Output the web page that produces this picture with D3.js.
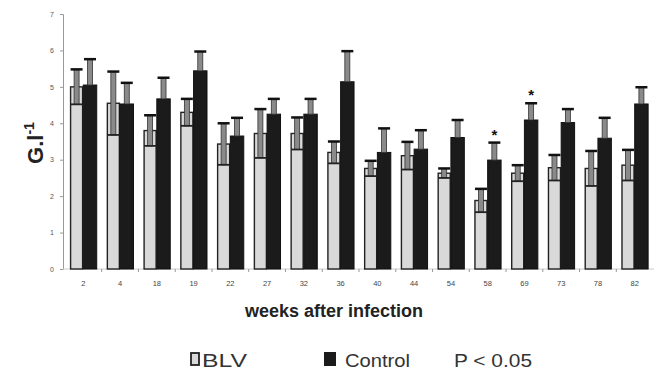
<!DOCTYPE html>
<html>
<head>
<meta charset="utf-8">
<script src="https://cdn.jsdelivr.net/npm/d3@7"></script>
<style>
  body { margin: 0; background: #fff; }
  svg { display: block; font-family: Arial, "Liberation Sans", sans-serif; }
</style>
</head>
<body>
<div id="chart"></div>
<script>
// weeks after infection
const weeks = ["2", "4", "18", "19", "22", "27", "32", "36", "40", "44", "54", "58", "69", "73", "78", "82"];
// BLV group means and SE
const blv = [5.0, 4.55, 3.8, 4.3, 3.43, 3.72, 3.72, 3.2, 2.76, 3.11, 2.63, 1.88, 2.63, 2.78, 2.76, 2.85];
const blvErr = [0.48, 0.87, 0.42, 0.37, 0.57, 0.67, 0.44, 0.3, 0.21, 0.38, 0.13, 0.32, 0.22, 0.35, 0.48, 0.42];
// Control group means and SE
const control = [5.05, 4.53, 4.67, 5.44, 3.65, 4.25, 4.25, 5.14, 3.2, 3.29, 3.61, 2.99, 4.09, 4.02, 3.59, 4.53];
const controlErr = [0.71, 0.58, 0.58, 0.53, 0.5, 0.42, 0.42, 0.84, 0.66, 0.52, 0.48, 0.48, 0.46, 0.37, 0.56, 0.46];
// weeks with P < 0.05
const signif = ["58", "69"];
const yTicks = [0, 1, 2, 3, 4, 5, 6, 7];

const W = 656, H = 376;
const svg = d3.select("#chart").append("svg")
  .attr("width", W).attr("height", H);

const x = d3.scaleBand()
  .domain(weeks)
  .range([64, 654])
  .paddingInner(0.27)
  .paddingOuter(0.16);

const y = d3.scaleLinear()
  .domain([0, 7])
  .range([269, 14]);

const sub = d3.scaleBand()
  .domain(["blv", "control"])
  .range([0, x.bandwidth()]);

// y axis
const yAxis = svg.append("g")
  .attr("transform", "translate(63,0)")
  .call(d3.axisLeft(y).tickValues(yTicks).tickSize(3).tickPadding(6).tickFormat(d3.format("d")));
yAxis.select(".domain").attr("stroke", "#999");
yAxis.selectAll(".tick line").attr("stroke", "#999");
yAxis.selectAll(".tick text")
  .style("font-size", "7px")
  .attr("fill", "#555");

// x axis (line + small separators between groups)
const step = x.step();
svg.append("line")
  .attr("x1", 63).attr("x2", 654)
  .attr("y1", y(0)).attr("y2", y(0))
  .attr("stroke", "#ccc").attr("stroke-width", 1);
svg.selectAll(".sep")
  .data(weeks.slice(1))
  .join("line")
  .attr("x1", d => x(d) - step * x.paddingInner() / 2)
  .attr("x2", d => x(d) - step * x.paddingInner() / 2)
  .attr("y1", y(0)).attr("y2", y(0) + 3)
  .attr("stroke", "#999");

svg.selectAll(".xlab")
  .data(weeks)
  .join("text")
  .attr("x", d => x(d) + x.bandwidth() / 2)
  .attr("y", 286)
  .attr("text-anchor", "middle")
  .style("font-size", "7.5px")
  .attr("fill", "#444")
  .text(d => d);

// build series rows
const rows = weeks.map((w, i) => ({
  w: w,
  blv: blv[i], blvErr: blvErr[i],
  control: control[i], controlErr: controlErr[i]
}));

// bars
const groups = svg.selectAll(".grp")
  .data(rows)
  .join("g")
  .attr("transform", d => `translate(${x(d.w)},0)`);

groups.append("rect")
  .attr("x", sub("blv") + 0.7)
  .attr("y", d => y(d.blv))
  .attr("width", sub.bandwidth() - 1.4)
  .attr("height", d => y(0) - y(d.blv))
  .attr("fill", "#d9d9d9")
  .attr("stroke", "#222")
  .attr("stroke-width", 1.4);

groups.append("rect")
  .attr("x", sub("control"))
  .attr("y", d => y(d.control))
  .attr("width", sub.bandwidth())
  .attr("height", d => y(0) - y(d.control))
  .attr("fill", "#1b1b1b")
  .attr("stroke", "#111")
  .attr("stroke-width", 1);

// error bars: BLV shows both halves, Control only the upper half (lower half hidden in the black bar)
function errBars(key, errKey, lower) {
  const cx = sub(key) + sub.bandwidth() / 2;
  const g = groups.append("g");
  g.append("rect")
    .attr("x", cx - 2.5)
    .attr("y", d => y(d[key] + d[errKey]))
    .attr("width", 5)
    .attr("height", d => (lower ? y(d[key] - d[errKey]) : y(d[key])) - y(d[key] + d[errKey]))
    .attr("fill", "#8a8a8a")
    .attr("stroke", "#333")
    .attr("stroke-width", 0.8);
  g.append("line")
    .attr("x1", cx - 6).attr("x2", cx + 6)
    .attr("y1", d => y(d[key] + d[errKey]))
    .attr("y2", d => y(d[key] + d[errKey]))
    .attr("stroke", "#111").attr("stroke-width", 2.5);
  if (lower) {
    g.append("line")
      .attr("x1", sub(key) + 0.7).attr("x2", sub(key) + sub.bandwidth() - 0.7)
      .attr("y1", d => y(d[key] - d[errKey]))
      .attr("y2", d => y(d[key] - d[errKey]))
      .attr("stroke", "#222").attr("stroke-width", 1.8);
  }
}
errBars("blv", "blvErr", true);
errBars("control", "controlErr", false);

// significance stars
svg.selectAll(".star")
  .data(rows.filter(d => signif.includes(d.w)))
  .join("text")
  .attr("x", d => x(d.w) + sub("control") + sub.bandwidth() / 2)
  .attr("y", d => y(d.control + d.controlErr) - 3)
  .attr("text-anchor", "middle")
  .style("font-size", "15px")
  .style("font-weight", "bold")
  .attr("fill", "#111")
  .text("*");

// axis titles
svg.append("text")
  .attr("x", 334)
  .attr("y", 317)
  .attr("text-anchor", "middle")
  .style("font-size", "18px")
  .style("font-weight", "bold")
  .attr("fill", "#222")
  .text("weeks after infection");

const yt = svg.append("text")
  .attr("transform", "translate(43,143) rotate(-90)")
  .attr("text-anchor", "middle")
  .style("font-size", "22px")
  .style("font-weight", "bold")
  .attr("fill", "#222");
yt.append("tspan").text("G.l");
yt.append("tspan").attr("dy", -9).style("font-size", "14px").text("-1");

// legend
const leg = svg.append("g");
leg.append("rect").attr("x", 191).attr("y", 353).attr("width", 8).attr("height", 12)
  .attr("fill", "#d9d9d9").attr("stroke", "#222").attr("stroke-width", 1.8);
leg.append("text").attr("x", 202).attr("y", 367)
  .attr("textLength", 45).attr("lengthAdjust", "spacingAndGlyphs")
  .style("font-size", "19px").attr("fill", "#333").text("BLV");
leg.append("rect").attr("x", 324).attr("y", 352).attr("width", 12).attr("height", 14)
  .attr("fill", "#1b1b1b");
leg.append("text").attr("x", 345).attr("y", 367)
  .attr("textLength", 65).attr("lengthAdjust", "spacingAndGlyphs")
  .style("font-size", "19px").attr("fill", "#333").text("Control");
leg.append("text").attr("x", 454).attr("y", 367)
  .attr("textLength", 78).attr("lengthAdjust", "spacingAndGlyphs")
  .style("font-size", "19px").attr("fill", "#333").text("P < 0.05");
</script>
</body>
</html>
